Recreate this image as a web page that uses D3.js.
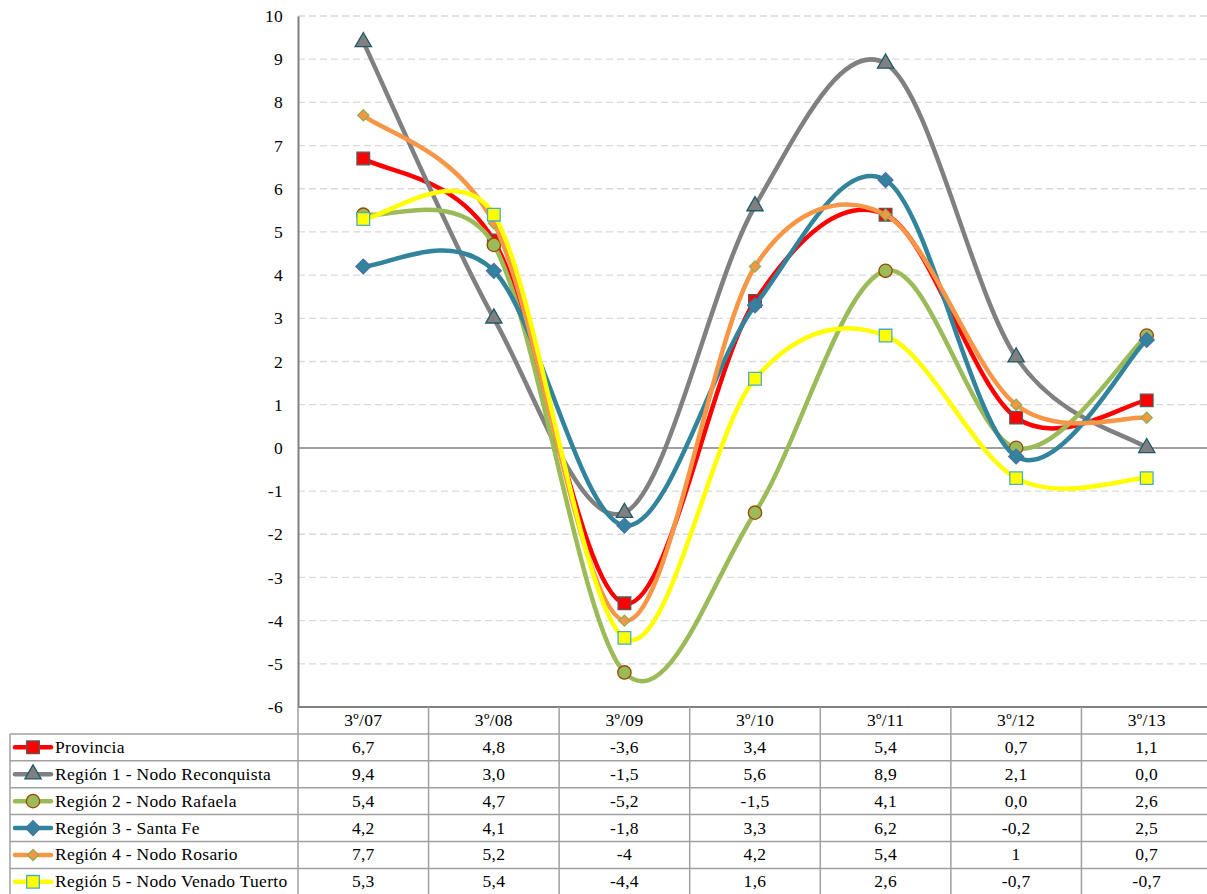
<!DOCTYPE html>
<html>
<head>
<meta charset="utf-8">
<script src="https://cdn.jsdelivr.net/npm/d3@7"></script>
<style>
  body { margin: 0; background: #fff; }
</style>
</head>
<body>
<script>
// data
var categories = ["3º/07", "3º/08", "3º/09", "3º/10", "3º/11", "3º/12", "3º/13"];
var seriesNames = ["Provincia", "Región 1 - Nodo Reconquista", "Región 2 - Nodo Rafaela",
                   "Región 3 - Santa Fe", "Región 4 - Nodo Rosario", "Región 5 - Nodo Venado Tuerto"];
var provincia   = [6.7, 4.8, -3.6, 3.4, 5.4, 0.7, 1.1];
var region1     = [9.4, 3.0, -1.5, 5.6, 8.9, 2.1, 0.0];
var region2     = [5.4, 4.7, -5.2, -1.5, 4.1, 0.0, 2.6];
var region3     = [4.2, 4.1, -1.8, 3.3, 6.2, -0.2, 2.5];
var region4     = [7.7, 5.2, -4, 4.2, 5.4, 1, 0.7];
var region5     = [5.3, 5.4, -4.4, 1.6, 2.6, -0.7, -0.7];
var yTicks = [10, 9, 8, 7, 6, 5, 4, 3, 2, 1, 0, -1, -2, -3, -4, -5, -6];

var allValues = [provincia, region1, region2, region3, region4, region5];

var FONT = "Liberation Serif";
var FSIZE = "17.5px";

// styles
var styles = [
  {line: "#FF0000", fill: "#FF0000", stroke: "#595959", symbol: d3.symbolSquare, size: 160, rot: 0, fixed: true},
  {line: "#808080", fill: "#808080", stroke: "#215968", symbol: d3.symbolTriangle, size: 115, rot: 0, fixed: true},
  {line: "#9BBB59", fill: "#9BBB59", stroke: "#984807", symbol: d3.symbolCircle, size: 140, rot: 0, fixed: true},
  {line: "#31849B", fill: "#31849B", stroke: "#4A6FA8", symbol: d3.symbolSquare, size: 110, rot: 45, fixed: true},
  {line: "#F79646", fill: "#F79646", stroke: "#8FAF50", symbol: d3.symbolSquare, size: 62, rot: 45, fixed: false},
  {line: "#FFFF00", fill: "#FFFF00", stroke: "#4BACC6", symbol: d3.symbolSquare, size: 160, rot: 0, fixed: true}
];

var W = 1207, H = 894;
var plotLeft = 298, plotRight = 1212, plotTop = 16, plotBottom = 707;
var tableLeft = 10, rowH = 26.9;

var svg = d3.select("body").append("svg")
    .attr("width", W)
    .attr("height", H);

var x = d3.scaleBand()
    .domain(categories)
    .range([plotLeft, plotRight]);

var y = d3.scaleLinear()
    .domain([-6, 10])
    .range([plotBottom, plotTop]);

var cx = function(i) { return x(categories[i]) + x.bandwidth() / 2; };

var styleText = function(sel) {
  sel.style("font-family", FONT)
     .style("font-size", FSIZE)
     .style("letter-spacing", "0.3px")
     .attr("fill", "#000");
};

// excel-like smoothing: cardinal arms of |P(i+1)-P(i-1)|/6, capped at half the segment
var smoothPath = function(pts) {
  var p = d3.path();
  p.moveTo(pts[0][0], pts[0][1]);
  for (var i = 0; i < pts.length - 1; i++) {
    var p0 = pts[Math.max(i - 1, 0)], p1 = pts[i], p2 = pts[i + 1], p3 = pts[Math.min(i + 2, pts.length - 1)];
    var d12 = Math.hypot(p2[0] - p1[0], p2[1] - p1[1]);
    var a = [(p2[0] - p0[0]) / 6, (p2[1] - p0[1]) / 6];
    var b = [(p3[0] - p1[0]) / 6, (p3[1] - p1[1]) / 6];
    var la = Math.hypot(a[0], a[1]), lb = Math.hypot(b[0], b[1]);
    if (la > d12 / 2) { a = [a[0] * d12 / 2 / la, a[1] * d12 / 2 / la]; }
    if (lb > d12 / 2) { b = [b[0] * d12 / 2 / lb, b[1] * d12 / 2 / lb]; }
    p.bezierCurveTo(p1[0] + a[0], p1[1] + a[1], p2[0] - b[0], p2[1] - b[1], p2[0], p2[1]);
  }
  return p.toString();
};

// gridlines
svg.append("g")
  .selectAll("line")
  .data(yTicks.filter(function(d) { return d != 0 && d != -6; }))
  .enter().append("line")
    .attr("x1", plotLeft).attr("x2", plotRight)
    .attr("y1", function(d) { return y(d); })
    .attr("y2", function(d) { return y(d); })
    .attr("stroke", "#D9D9D9")
    .attr("stroke-width", 1.3)
    .attr("stroke-dasharray", "7,4");

// zero line
svg.append("line")
    .attr("x1", plotLeft).attr("x2", plotRight)
    .attr("y1", y(0)).attr("y2", y(0))
    .attr("stroke", "#808080")
    .attr("stroke-width", 1.5);

// y axis
var yAxis = svg.append("g")
    .attr("transform", "translate(" + plotLeft + ",0)")
    .call(d3.axisLeft(y).tickValues(yTicks).tickSize(0).tickPadding(15)
      .tickFormat(function(d) { return String(d); }));
yAxis.select(".domain").attr("stroke", "#808080").attr("stroke-width", 2);
yAxis.selectAll("text").call(styleText);

// lines and markers
allValues.forEach(function(vals, s) {
  var st = styles[s];
  var pts = vals.map(function(d, i) { return [cx(i), y(d)]; });
  svg.append("path")
      .attr("d", smoothPath(pts))
      .attr("fill", "none")
      .attr("stroke", st.line)
      .attr("stroke-width", 4.5)
      .attr("stroke-linejoin", "round");
  svg.append("g").selectAll("path")
    .data(vals)
    .enter().append("path")
      .attr("d", d3.symbol().type(st.symbol).size(st.size))
      .attr("transform", function(d, i) {
        return "translate(" + cx(i) + "," + y(d) + ") rotate(" + st.rot + ")";
      })
      .attr("fill", st.fill)
      .attr("stroke", st.stroke)
      .attr("stroke-width", 1.3);
});

// data table
var fmt = function(v, fixed) {
  var s = fixed ? v.toFixed(1) : String(v);
  return s.replace(".", ",");
};

var table = svg.append("g").attr("class", "table");
var gridColor = "#A0A0A0";

// header
table.selectAll(".hdr")
  .data(categories)
  .enter().append("text")
    .attr("x", function(d) { return x(d) + x.bandwidth() / 2; })
    .attr("y", plotBottom + rowH / 2 + 6)
    .attr("text-anchor", "middle")
    .text(function(d) { return d; })
    .call(styleText);

// horizontal lines
table.append("line")
    .attr("x1", plotLeft).attr("x2", plotRight)
    .attr("y1", plotBottom).attr("y2", plotBottom)
    .attr("stroke", "#808080").attr("stroke-width", 2);
for (var r = 1; r <= 6; r++) {
  table.append("line")
      .attr("x1", tableLeft).attr("x2", plotRight)
      .attr("y1", plotBottom + r * rowH).attr("y2", plotBottom + r * rowH)
      .attr("stroke", gridColor).attr("stroke-width", 1.5);
}
// vertical lines
table.append("line")
    .attr("x1", tableLeft).attr("x2", tableLeft)
    .attr("y1", plotBottom + rowH).attr("y2", H)
    .attr("stroke", gridColor).attr("stroke-width", 1.5);
categories.forEach(function(c) {
  table.append("line")
      .attr("x1", x(c)).attr("x2", x(c))
      .attr("y1", plotBottom).attr("y2", H)
      .attr("stroke", gridColor).attr("stroke-width", 1.5);
});

// rows
allValues.forEach(function(vals, s) {
  var st = styles[s];
  var ry = plotBottom + (s + 1) * rowH + rowH / 2;
  table.append("line")
      .attr("x1", 15).attr("x2", 51)
      .attr("y1", ry).attr("y2", ry)
      .attr("stroke", st.line).attr("stroke-width", 4.5)
      .attr("stroke-linecap", "round");
  table.append("path")
      .attr("d", d3.symbol().type(st.symbol).size(st.size))
      .attr("transform", "translate(33," + ry + ") rotate(" + st.rot + ")")
      .attr("fill", st.fill)
      .attr("stroke", st.stroke)
      .attr("stroke-width", 1.3);
  table.append("text")
      .attr("x", 55)
      .attr("y", ry + 5.5)
      .text(seriesNames[s])
      .call(styleText);
  table.selectAll(".v" + s)
    .data(vals)
    .enter().append("text")
      .attr("x", function(d, i) { return cx(i); })
      .attr("y", ry + 5.5)
      .attr("text-anchor", "middle")
      .text(function(d) { return fmt(d, st.fixed); })
      .call(styleText);
});
</script>
</body>
</html>
